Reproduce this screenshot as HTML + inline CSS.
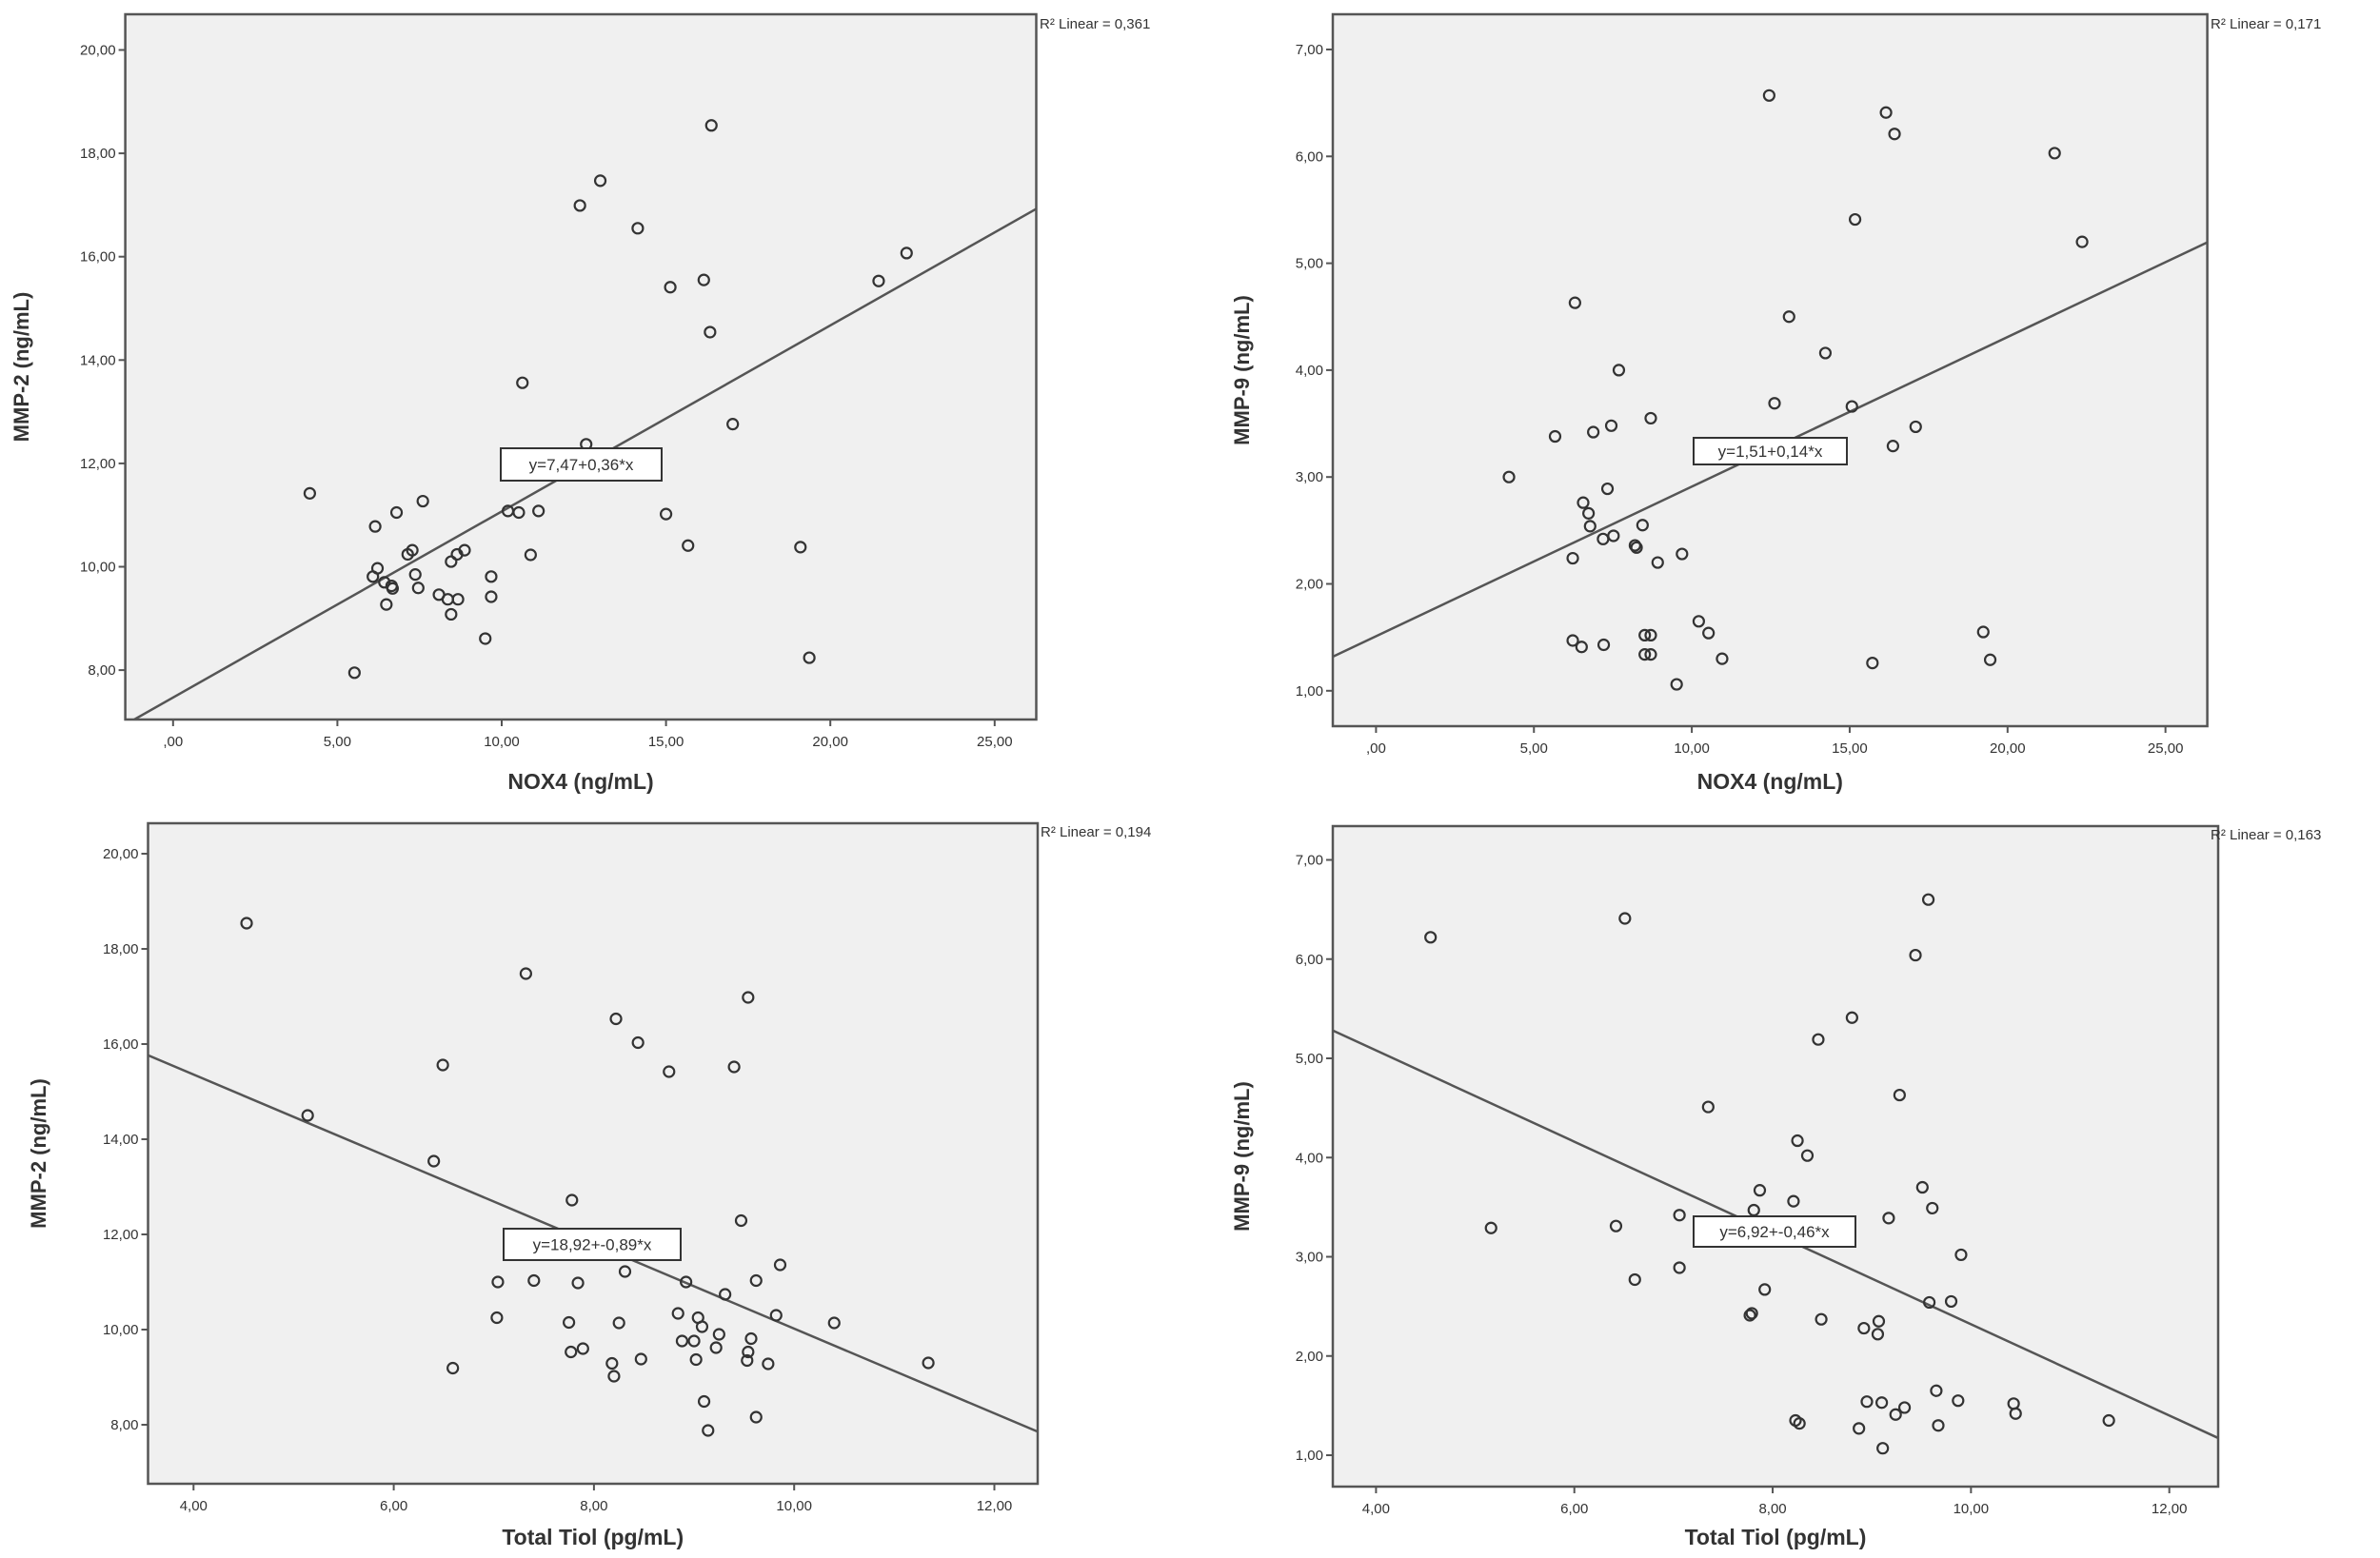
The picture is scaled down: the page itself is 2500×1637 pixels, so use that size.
<!DOCTYPE html>
<html><head><meta charset="utf-8"><style>
html,body{margin:0;padding:0;background:#fff;}
svg{display:block;font-family:"Liberation Sans",sans-serif;}
</style></head><body>
<svg id="fig" width="2500" height="1637" viewBox="0 0 2500 1637" xmlns="http://www.w3.org/2000/svg"></svg>
<script>
// Panel A: NOX4 vs MMP-2
const nox4A = [16.38,13.0,12.38,14.14,22.32,16.15,21.47,15.13,16.34,10.63,17.03,12.57,4.16,7.6,6.8,6.15,10.19,10.52,11.12,15.0,15.67,19.09,10.88,7.28,7.14,8.87,8.64,8.46,6.22,6.08,7.37,9.68,6.43,6.65,6.68,7.46,8.09,8.36,8.67,9.68,6.49,8.46,9.5,5.52,19.36];
const mmp2A = [18.54,17.47,16.99,16.55,16.07,15.55,15.53,15.41,14.54,13.56,12.76,12.37,11.42,11.27,11.05,10.78,11.08,11.05,11.08,11.02,10.41,10.38,10.23,10.32,10.24,10.32,10.24,10.1,9.97,9.81,9.85,9.81,9.70,9.63,9.58,9.59,9.46,9.37,9.37,9.42,9.27,9.08,8.61,7.95,8.24];
// Panel B: NOX4 vs MMP-9
const nox4B = [12.45,16.15,16.42,21.49,15.17,22.36,6.3,13.08,14.23,7.69,12.62,15.07,8.7,7.45,17.09,6.88,5.67,16.37,4.21,7.33,6.56,6.73,6.78,8.44,7.52,7.19,8.2,8.25,9.69,6.23,8.92,10.22,19.23,10.53,8.51,8.7,6.23,6.51,7.21,8.51,8.7,10.96,19.45,15.72,9.52];
const mmp9B = [6.57,6.41,6.21,6.03,5.41,5.2,4.63,4.5,4.16,4.0,3.69,3.66,3.55,3.48,3.47,3.42,3.38,3.29,3.0,2.89,2.76,2.66,2.54,2.55,2.45,2.42,2.36,2.34,2.28,2.24,2.2,1.65,1.55,1.54,1.52,1.52,1.47,1.41,1.43,1.34,1.34,1.3,1.29,1.26,1.06];
// Panel C: Total Tiol vs MMP-2
const tiolC = [4.53,7.32,9.54,8.22,8.44,6.49,9.4,8.75,5.14,6.4,7.78,9.47,9.86,8.31,7.04,7.4,7.84,8.92,9.62,9.31,7.03,7.75,8.25,8.84,9.04,9.08,9.82,10.4,9.25,9.57,8.88,9.0,9.22,7.89,7.77,9.54,9.53,9.02,8.47,9.74,8.18,11.34,6.59,8.2,9.1,9.62,9.14];
const mmp2C = [18.54,17.48,16.98,16.53,16.03,15.56,15.52,15.42,14.5,13.54,12.72,12.29,11.36,11.22,11.0,11.03,10.98,11.0,11.03,10.74,10.25,10.15,10.14,10.34,10.25,10.06,10.3,10.14,9.9,9.81,9.76,9.76,9.62,9.6,9.53,9.53,9.35,9.37,9.38,9.28,9.29,9.3,9.19,9.02,8.49,8.16,7.88];
// Panel D: Total Tiol vs MMP-9
const tiolD = [9.57,6.51,4.55,9.44,8.8,8.46,9.28,7.35,8.25,8.35,7.87,9.51,8.21,9.61,7.81,7.06,9.17,6.42,5.16,9.9,7.06,6.61,7.92,9.58,9.8,7.79,7.77,8.49,9.07,8.92,9.06,9.65,9.87,8.95,9.1,10.43,9.33,9.24,10.45,11.39,8.23,8.27,8.87,9.67,9.11];
const mmp9D = [6.6,6.41,6.22,6.04,5.41,5.19,4.63,4.51,4.17,4.02,3.67,3.7,3.56,3.49,3.47,3.42,3.39,3.31,3.29,3.02,2.89,2.77,2.67,2.54,2.55,2.43,2.41,2.37,2.35,2.28,2.22,1.65,1.55,1.54,1.53,1.52,1.48,1.41,1.42,1.35,1.35,1.32,1.27,1.3,1.07];
// regression coefficients [intercept, slope]
const fitA = [7.47, 0.36], fitB = [1.51, 0.14], fitC = [18.92, -0.89], fitD = [6.92, -0.46];
const eqLabels = ["y=7,47+0,36*x","y=1,51+0,14*x","y=18,92+-0,89*x","y=6,92+-0,46*x"];
const r2Labels = ["R\u00B2 Linear = 0,361","R\u00B2 Linear = 0,171","R\u00B2 Linear = 0,194","R\u00B2 Linear = 0,163"];
const xTicksNox = [0,5,10,15,20,25], xTickLabNox = [",00","5,00","10,00","15,00","20,00","25,00"];
const xTicksTiol = [4,6,8,10,12], xTickLabTiol = ["4,00","6,00","8,00","10,00","12,00"];
const yTicksMmp2 = [8,10,12,14,16,18,20], yTickLabMmp2 = ["8,00","10,00","12,00","14,00","16,00","18,00","20,00"];
const yTicksMmp9 = [1,2,3,4,5,6,7], yTickLabMmp9 = ["1,00","2,00","3,00","4,00","5,00","6,00","7,00"];

const NS = "http://www.w3.org/2000/svg";
const svg = document.getElementById('fig');
function mk(tag, attrs, parent){const e=document.createElementNS(NS,tag);for(const k in attrs)e.setAttribute(k,attrs[k]);(parent||svg).appendChild(e);return e;}

const panels = [
 {id:'a',xs:nox4A,ys:mmp2A,fit:fitA,eq:eqLabels[0],r2:r2Labels[0],xt:xTicksNox,xl:xTickLabNox,yt:yTicksMmp2,yl:yTickLabMmp2,
  box:[131.6,15,1088.5,756],xv0:0,xp0:181.8,xs1:34.52,yv0:20,yp0:52.5,ys1:54.3,xtitle:"NOX4 (ng/mL)",ytitle:"MMP-2 (ng/mL)",xtY:829,ytX:30,eqBox:[526,471,169,34],r2X:1092,r2Y:30},
 {id:'b',xs:nox4B,ys:mmp9B,fit:fitB,eq:eqLabels[1],r2:r2Labels[1],xt:xTicksNox,xl:xTickLabNox,yt:yTicksMmp9,yl:yTickLabMmp9,
  box:[1400,15,2318.6,763],xv0:0,xp0:1445.4,xs1:33.17,yv0:7,yp0:52,ys1:112.3,xtitle:"NOX4 (ng/mL)",ytitle:"MMP-9 (ng/mL)",xtY:829,ytX:1312,eqBox:[1779,460,161,28],r2X:2322,r2Y:30},
 {id:'c',xs:tiolC,ys:mmp2C,fit:fitC,eq:eqLabels[2],r2:r2Labels[2],xt:xTicksTiol,xl:xTickLabTiol,yt:yTicksMmp2,yl:yTickLabMmp2,
  box:[155.5,865,1090,1559],xv0:4,xp0:203.3,xs1:105.15,yv0:20,yp0:897,ys1:50,xtitle:"Total Tiol (pg/mL)",ytitle:"MMP-2 (ng/mL)",xtY:1623,ytX:48,eqBox:[529,1291,186,33],r2X:1093,r2Y:879},
 {id:'d',xs:tiolD,ys:mmp9D,fit:fitD,eq:eqLabels[3],r2:r2Labels[3],xt:xTicksTiol,xl:xTickLabTiol,yt:yTicksMmp9,yl:yTickLabMmp9,
  box:[1400,868,2330,1562],xv0:4,xp0:1445.4,xs1:104.16,yv0:7,yp0:903.5,ys1:104.25,xtitle:"Total Tiol (pg/mL)",ytitle:"MMP-9 (ng/mL)",xtY:1623,ytX:1312,eqBox:[1779,1278,170,32],r2X:2322,r2Y:882}
];

panels.forEach(p=>{
  const X=v=>p.xp0+(v-p.xv0)*p.xs1, Y=v=>p.yp0-(v-p.yv0)*p.ys1;
  const [x1,y1,x2,y2]=p.box;
  const g=mk('g',{});
  
  
  const bg=mk('rect',{x:x1,y:y1,width:x2-x1,height:y2-y1,fill:'#f0f0f0',stroke:'#555','stroke-width':2.5},g);
  
  
  const cp=mk('clipPath',{id:'clip'+p.id},g);
  mk('rect',{x:x1,y:y1,width:x2-x1,height:y2-y1},cp);
  // y ticks
  p.yt.forEach((v,i)=>{
    const yy=Y(v);
    mk('line',{x1:x1-7,x2:x1,y1:yy,y2:yy,stroke:'#555','stroke-width':2},g);
    const t=mk('text',{x:x1-10,y:yy+5,'font-size':15,'text-anchor':'end',fill:'#333'},g);
    t.textContent=p.yl[i];
    
    
  });
  p.xt.forEach((v,i)=>{
    const xx=X(v);
    mk('line',{x1:xx,x2:xx,y1:y2,y2:y2+7,stroke:'#555','stroke-width':2},g);
    const t=mk('text',{x:xx,y:y2+28,'font-size':15,'text-anchor':'middle',fill:'#333'},g);
    t.textContent=p.xl[i];
    
    
  });
  // fit line
  const xa=p.xv0+(x1-p.xp0)/p.xs1, xb=p.xv0+(x2-p.xp0)/p.xs1;
  const ln=mk('line',{x1:X(xa),y1:Y(p.fit[0]+p.fit[1]*xa),x2:X(xb),y2:Y(p.fit[0]+p.fit[1]*xb),stroke:'#555','stroke-width':2.5,'clip-path':'url(#clip'+p.id+')'},g);
  
  
  // points
  p.xs.forEach((v,i)=>{
    const c=mk('circle',{cx:X(v),cy:Y(p.ys[i]),r:5.5,fill:'none',stroke:'#333','stroke-width':2.2},g);
    
    
  });
  // equation box
  const [ex,ey,ew,eh]=p.eqBox;
  const eb=mk('rect',{x:ex,y:ey,width:ew,height:eh,fill:'#fff',stroke:'#333','stroke-width':2},g);
  
  
  const et=mk('text',{x:ex+ew/2,y:ey+eh/2+6,'font-size':17,'text-anchor':'middle',fill:'#333'},g);
  et.textContent=p.eq;
  
  
  // r2
  const rt=mk('text',{x:p.r2X,y:p.r2Y,'font-size':15,fill:'#333'},g);
  rt.textContent=p.r2;
  
  
  // titles
  const xt=mk('text',{x:(x1+x2)/2,y:p.xtY,'font-size':23,'font-weight':'bold','text-anchor':'middle',fill:'#333'},g);
  xt.textContent=p.xtitle;
  
  
  const yc=(y1+y2)/2;
  const yt=mk('text',{x:p.ytX,y:yc,'font-size':22,'font-weight':'bold','text-anchor':'middle',fill:'#333',transform:'rotate(-90 '+p.ytX+' '+yc+')'},g);
  yt.textContent=p.ytitle;
  
  
});
</script>
</body></html>
